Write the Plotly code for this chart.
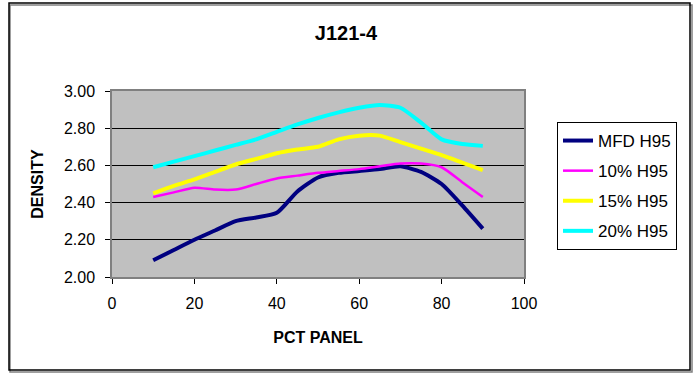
import plotly.graph_objects as go

pct_panel = [10, 15, 20, 25, 30, 35, 40, 45, 50, 55, 60, 65, 70, 75, 80, 85, 90]
mfd_h95 = [2.09, 2.145, 2.20, 2.25, 2.30, 2.32, 2.345, 2.46, 2.535, 2.56, 2.57, 2.58, 2.595, 2.565, 2.50, 2.385, 2.26]
h95_10 = [2.43, 2.455, 2.48, 2.47, 2.47, 2.50, 2.53, 2.545, 2.56, 2.57, 2.58, 2.595, 2.61, 2.61, 2.59, 2.51, 2.43]
h95_15 = [2.45, 2.49, 2.525, 2.565, 2.605, 2.635, 2.665, 2.685, 2.70, 2.74, 2.76, 2.76, 2.725, 2.69, 2.655, 2.615, 2.575]
h95_20 = [2.59, 2.62, 2.65, 2.68, 2.71, 2.74, 2.78, 2.82, 2.855, 2.885, 2.91, 2.925, 2.91, 2.83, 2.74, 2.715, 2.705]

series_names = ["MFD H95", "10% H95", "15% H95", "20% H95"]
series_vals = [mfd_h95, h95_10, h95_15, h95_20]
series_colors = ["#000080", "#FF00FF", "#FFFF00", "#00FFFF"]
series_widths = [4, 2.5, 4, 4]

W, H = 699, 375
L, R, T, B = 112, 175, 91, 98
PW, PH = W - L - R, H - T - B

def px(x):
    return (x - L) / PW

def py(y):
    return (H - B - y) / PH

fig = go.Figure()
for i, (n, v, c, w) in enumerate(zip(series_names, series_vals, series_colors, series_widths)):
    fig.add_trace(go.Scatter(
        x=pct_panel, y=v, name=n, mode="lines",
        line=dict(color=c, width=w, shape="spline", smoothing=0.6),
        legendgroup=f"g{i}",
    ))

font_family = "Liberation Sans, Arial, sans-serif"

fig.update_layout(
    width=W, height=H,
    margin=dict(l=L, r=R, t=T, b=B),
    paper_bgcolor="white",
    plot_bgcolor="#C0C0C0",
    font=dict(family=font_family, color="black", size=16),
    title=dict(text="<b>J121-4</b>", x=0.495, xanchor="center", y=1 - 33 / H, yanchor="middle",
               font=dict(size=20, family=font_family, color="black")),
    xaxis=dict(
        range=[0, 100], tick0=0, dtick=20, ticks="outside", ticklen=5, tickcolor="black",
        showline=True, linecolor="#808080", linewidth=1.5, mirror=True, showgrid=False, zeroline=False,
        tickfont=dict(size=16), ticklabelstandoff=6,
        title=dict(text="<b>PCT PANEL</b>", font=dict(size=16), standoff=21),
    ),
    yaxis=dict(
        range=[2.0, 3.0], tick0=2.0, dtick=0.2, tickformat=".2f", ticks="outside", ticklen=5,
        tickcolor="black", showline=True, linecolor="#808080", linewidth=1.5, mirror=True,
        showgrid=True, gridcolor="black", gridwidth=1, zeroline=False,
        tickfont=dict(size=16), ticklabelstandoff=7,
        title=dict(text="<b>DENSITY</b>", font=dict(size=16), standoff=16),
    ),
    legend=dict(
        x=px(557), y=py(122), xanchor="left", yanchor="top",
        bgcolor="white", bordercolor="black", borderwidth=1,
        font=dict(size=17), tracegroupgap=5, traceorder="grouped",
    ),
    showlegend=True,
    shapes=[
        dict(type="rect", xref="paper", yref="paper",
             x0=px(10), x1=px(692), y0=py(372), y1=py(5),
             line=dict(color="#808080", width=1.5), layer="below"),
        dict(type="rect", xref="paper", yref="paper",
             x0=px(9), x1=px(690), y0=py(370), y1=py(3),
             line=dict(color="black", width=1.5), fillcolor="rgba(0,0,0,0)", layer="below"),
    ],
)

fig.write_html("out.html")
